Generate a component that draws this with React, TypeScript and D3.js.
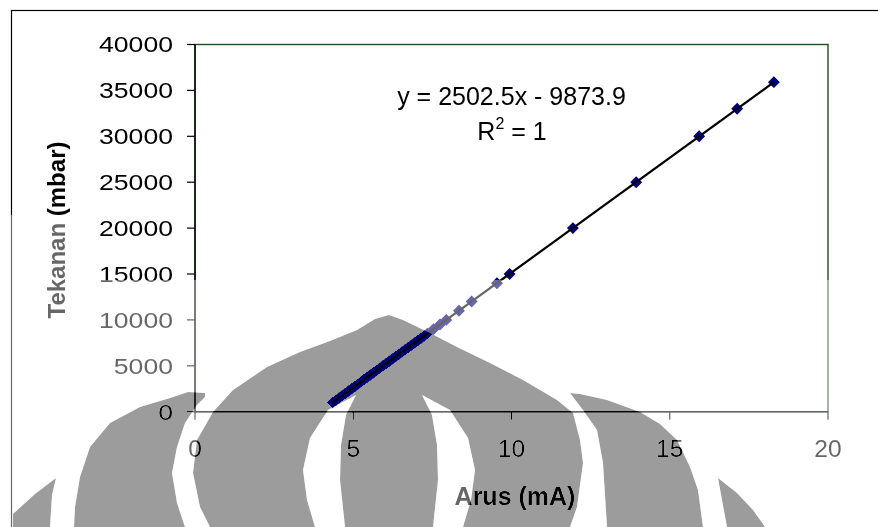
import React from 'react';
import * as d3 from 'd3';

// ---- data ----
const arus = [
  4.35, 4.45, 4.55, 4.65, 4.75, 4.85, 4.95, 5.05, 5.15, 5.25,
  5.34, 5.44, 5.54, 5.64, 5.74, 5.84, 5.94, 6.04, 6.14, 6.24,
  6.34, 6.44, 6.54, 6.64, 6.74, 6.84, 6.94, 7.04, 7.14, 7.24,
  7.34, 7.54, 7.74, 7.94, 8.34, 8.74, 9.54, 9.94, 11.94, 13.94,
  15.93, 17.13, 18.29,
];
const tekanan = [
  1000, 1250, 1500, 1750, 2000, 2250, 2500, 2750, 3000, 3250,
  3500, 3750, 4000, 4250, 4500, 4750, 5000, 5250, 5500, 5750,
  6000, 6250, 6500, 6750, 7000, 7250, 7500, 7750, 8000, 8250,
  8500, 9000, 9500, 10000, 11000, 12000, 14000, 15000, 20000, 25000,
  30000, 33000, 35900,
];
const xTicks = [0, 5, 10, 15, 20];
const yTicks = [0, 5000, 10000, 15000, 20000, 25000, 30000, 35000, 40000];
const trendSlope = 2502.5;
const trendIntercept = -9873.9;
const equationText = 'y = 2502.5x - 9873.9';
const xTitle = 'Arus (mA)';
const yTitle = 'Tekanan (mbar)';

// watermark (background logo) outlines
const grayShapes = [
  'M205,393 L188,392 L170,398 L140,407 L110,423 L90,447 L80,477 L75,507 L74,527 L185,527 L177,503 L172,473 L177,447 L185,423 L197,405 L205,397 Z',
  'M13,527 L13,514 L35,494 L56,478 L52,495 L50,527 Z',
  'M210,527 L200,507 L193,473 L197,440 L213,412 L233,390 L267,367 L300,352 L330,341 L357,330 L375,319 L389,315 L403,320 L430,333 L457,347 L490,363 L523,380 L557,400 L573,413 L580,440 L583,463 L577,507 L570,527 Z',
  'M570,393 L580,394 L607,400 L640,412 L660,424 L677,440 L690,467 L698,490 L703,527 L607,527 L603,463 L597,430 L583,410 Z',
  'M718,478 L737,493 L753,510 L765,527 L727,527 L722,500 Z',
].join(' ');
const crescents = [
  'M422,395 L450,410 L468,438 L475,470 L471,500 L463,527 L433,527 L438,480 L437,445 L432,415 Z',
  'M356,395 L328,410 L310,438 L303,470 L307,500 L315,527 L345,527 L340,480 L341,445 L346,415 Z',
].join(' ');
const lightRegion = 'M0,215 L85,215 L85,280 L878,280 L878,527 L0,527 Z';

export default function App() {
  const W = 878;
  const H = 527;
  const x = d3.scaleLinear().domain([0, 20]).range([195, 828]);
  const y = d3.scaleLinear().domain([0, 40000]).range([411.7, 44.5]);
  const [x0, x1] = d3.extent(arus) as [number, number];
  const trend = d3
    .line<number>()
    .x((d) => x(d))
    .y((d) => y(trendSlope * d + trendIntercept))([x0, x1]) as string;
  const marker = d3.symbol(d3.symbolSquare, 52)() as string;
  const font = 'Arial, "Liberation Sans", Helvetica, sans-serif';

  return (
    <svg
      width={W}
      height={H}
      viewBox={`0 0 ${W} ${H}`}
      style={{ position: 'absolute', left: 0, top: 0, display: 'block', background: '#fff' }}
      fontFamily={font}
    >
      <defs>
        <mask id="gm" maskUnits="userSpaceOnUse" x={0} y={0} width={W} height={H}>
          <rect width={W} height={H} fill="black" />
          <path d={grayShapes} fill="white" />
          <path d={crescents} fill="black" />
        </mask>
        <mask id="lm" maskUnits="userSpaceOnUse" x={0} y={0} width={W} height={H}>
          <path d={lightRegion} fill="white" />
          <path d={grayShapes} fill="black" />
          <path d={crescents} fill="white" />
        </mask>
      </defs>
      <rect width={W} height={H} fill="#fff" />
      {/* outer chart border */}
      <rect x={11.5} y={10.5} width={W + 20} height={H + 20} fill="none" stroke="#000" strokeWidth={1.2} />

      {/* plot area */}
      <rect x={x(0)} y={y(40000)} width={x(20) - x(0)} height={y(0) - y(40000)} fill="none" stroke="#1f4f1f" strokeWidth={1.4} />
      <line x1={x(0)} x2={x(0)} y1={y(0)} y2={y(40000)} stroke="#000" strokeWidth={1.4} />
      <line x1={x(0)} x2={x(20)} y1={y(0)} y2={y(0)} stroke="#000" strokeWidth={1.4} />

      {yTicks.map((t) => (
        <g key={'y' + t}>
          <line x1={x(0) - 8} x2={x(0)} y1={y(t)} y2={y(t)} stroke="#000" strokeWidth={1.2} />
          <g transform={`translate(173,${y(t)}) scale(1.21,1)`}>
            <text x={0} y={0} dy="0.36em" textAnchor="end" fontSize={22} fill="#000">
              {t}
            </text>
          </g>
        </g>
      ))}
      {xTicks.map((t) => (
        <g key={'x' + t}>
          <line x1={x(t)} x2={x(t)} y1={y(0)} y2={y(0) + 8} stroke="#000" strokeWidth={1.2} />
          <g transform={`translate(${x(t)},456.5) scale(1.07,1)`}>
            <text x={0} y={0} textAnchor="middle" fontSize={23} fill="#000">
              {t}
            </text>
          </g>
        </g>
      ))}

      {/* data markers */}
      {arus.map((a, i) => (
        <path
          key={'m' + i}
          d={marker}
          transform={`translate(${x(a)},${y(tekanan[i])}) rotate(45)`}
          fill="#000080"
          stroke="#000070"
          strokeWidth={1.2}
        />
      ))}
      {/* trendline */}
      <path d={trend} fill="none" stroke="#000" strokeWidth={2.2} />

      {/* equation */}
      <text x={511.5} y={105} textAnchor="middle" fontSize={25} fill="#000">
        {equationText}
      </text>
      <text x={512} y={140} textAnchor="middle" fontSize={25} fill="#000">
        R<tspan fontSize={16} dy={-11}>2</tspan>
        <tspan dy={11}> = 1</tspan>
      </text>

      {/* axis titles */}
      <text x={515} y={505} textAnchor="middle" fontSize={25} fontWeight="bold" fill="#000">
        {xTitle}
      </text>
      <text
        transform="translate(65,230) rotate(-90)"
        textAnchor="middle"
        fontSize={24}
        fontWeight="bold"
        fill="#000"
      >
        {yTitle}
      </text>

      {/* watermark overlay */}
      <rect width={W} height={H} fill="#9c9c9c" mask="url(#gm)" style={{ mixBlendMode: 'darken' }} />
      <rect width={W} height={H} fill="#fff" fillOpacity={0.4} mask="url(#lm)" />
    </svg>
  );
}
